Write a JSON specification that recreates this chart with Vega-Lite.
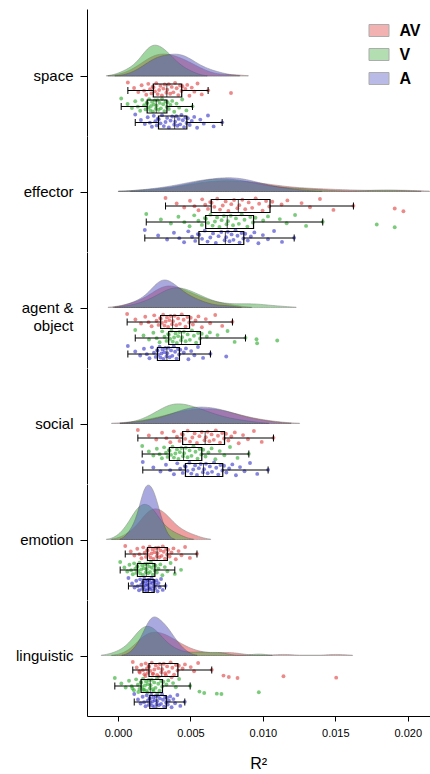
{
  "$schema": "https://vega.github.io/schema/vega-lite/v6.json",
  "padding": {"left": 15, "top": 9, "right": 0, "bottom": 0},
  "background": "white",
  "data": {"values": [
    {"c": "space", "m": "AV", "v": [0.00068,0.00394,0.00264,0.00549,0.00209,0.0035,0.00322,0.00478,0.00163,0.00428,0.00293,0.00445,0.0024,0.00371,0.00245,0.00509,0.00111,0.00405,0.00313,0.00465,0.00221,0.0034,0.00284,0.00622,0.0018,0.00438,0.00255,0.00527,0.0014,0.00382,0.00334,0.0078,0.00231,0.0036,0.00274,0.00578,0.00195,0.00416,0.00303,0.00493]},
    {"c": "space", "m": "V", "v": [0.00022,0.00304,0.00215,0.00443,0.00167,0.00273,0.00254,0.00374,0.00119,0.00328,0.00235,0.00342,0.00199,0.00288,0.00202,0.00404,0.00066,0.00312,0.00248,0.00362,0.0018,0.00266,0.00228,0.00514,0.00137,0.00336,0.00209,0.00422,0.00096,0.00296,0.00262,0.00351,0.0019,0.0028,0.00222,0.00472,0.00153,0.0032,0.00241,0.00388]},
    {"c": "space", "m": "A", "v": [0.00119,0.00438,0.00304,0.00621,0.00247,0.00403,0.00374,0.00526,0.00205,0.00465,0.00339,0.00482,0.00275,0.00419,0.00281,0.00568,0.00158,0.00447,0.00363,0.00509,0.00258,0.00394,0.00328,0.00719,0.0022,0.00473,0.00293,0.00592,0.00185,0.00429,0.00388,0.00495,0.00267,0.0041,0.00316,0.0066,0.00234,0.00456,0.00351,0.00546]},
    {"c": "effector", "m": "AV", "v": [0.00328,0.0095,0.00685,0.01394,0.00581,0.00858,0.00801,0.01169,0.00497,0.01022,0.00743,0.01065,0.00636,0.00902,0.00646,0.01267,0.00405,0.00974,0.00782,0.01129,0.00602,0.00837,0.00723,0.01625,0.00528,0.01044,0.00665,0.01325,0.00457,0.00926,0.00824,0.0191,0.00621,0.00878,0.00704,0.01487,0.00556,0.00998,0.00762,0.0197]},
    {"c": "effector", "m": "V", "v": [0.00195,0.00854,0.00638,0.01222,0.00526,0.00778,0.00731,0.01035,0.00417,0.00913,0.00684,0.00949,0.00599,0.00814,0.00607,0.01117,0.00296,0.00873,0.00715,0.01002,0.00555,0.00759,0.00669,0.01413,0.00458,0.00931,0.00622,0.01164,0.00365,0.00834,0.00749,0.01786,0.00579,0.00794,0.00653,0.01298,0.00494,0.00893,0.007,0.0191]},
    {"c": "effector", "m": "A", "v": [0.00185,0.00811,0.00599,0.01077,0.00485,0.00758,0.00713,0.00941,0.00386,0.00853,0.00656,0.00878,0.00551,0.00784,0.00561,0.01,0.00277,0.00825,0.00694,0.00917,0.00511,0.00746,0.00637,0.01216,0.00423,0.00865,0.0058,0.01035,0.00339,0.00797,0.00736,0.00896,0.00533,0.0077,0.00618,0.01132,0.00456,0.00839,0.00675,0.00969]},
    {"c": "agent & object", "m": "AV", "v": [0.00063,0.0044,0.00312,0.00671,0.0025,0.00391,0.00363,0.00555,0.00188,0.00479,0.00338,0.00502,0.00291,0.00415,0.00295,0.00606,0.0012,0.00453,0.00355,0.00535,0.00266,0.0038,0.00329,0.0079,0.00211,0.00491,0.00304,0.00636,0.00159,0.00427,0.00373,0.00517,0.0028,0.00402,0.00321,0.00719,0.00232,0.00466,0.00346,0.00579]},
    {"c": "agent & object", "m": "V", "v": [0.00119,0.0051,0.00369,0.00756,0.00305,0.00455,0.00424,0.00634,0.00244,0.00553,0.00397,0.00578,0.00346,0.00481,0.00351,0.00687,0.00176,0.00524,0.00415,0.00613,0.00321,0.00442,0.00387,0.0088,0.00267,0.00566,0.0036,0.00956,0.00214,0.00496,0.00435,0.01099,0.00335,0.00467,0.00378,0.00805,0.00287,0.00539,0.00406,0.0096]},
    {"c": "agent & object", "m": "A", "v": [0.00068,0.00385,0.00287,0.00552,0.00234,0.00348,0.00327,0.00469,0.00179,0.00414,0.00307,0.0043,0.0027,0.00366,0.00273,0.00505,0.00119,0.00394,0.0032,0.00454,0.00248,0.0034,0.003,0.00638,0.00199,0.00422,0.0028,0.00527,0.00153,0.00375,0.00335,0.00747,0.0026,0.00356,0.00293,0.00587,0.00217,0.00404,0.00314,0.00486]},
    {"c": "social", "m": "AV", "v": [0.00137,0.00675,0.00481,0.00938,0.00385,0.00619,0.00578,0.00806,0.00304,0.00719,0.00529,0.00745,0.0044,0.00646,0.00448,0.00863,0.00213,0.0069,0.00562,0.00782,0.00407,0.00606,0.00513,0.01073,0.00334,0.00732,0.00464,0.00897,0.00264,0.00661,0.00597,0.00762,0.00425,0.00631,0.00497,0.00992,0.00361,0.00704,0.00545,0.00833]},
    {"c": "social", "m": "V", "v": [0.00167,0.00521,0.00376,0.00773,0.00318,0.00468,0.00437,0.00646,0.00268,0.00563,0.00407,0.00588,0.00351,0.00494,0.00356,0.00702,0.00213,0.00535,0.00427,0.00624,0.00331,0.00456,0.00396,0.00903,0.00287,0.00575,0.00366,0.00734,0.00244,0.00507,0.00449,0.00604,0.00342,0.0048,0.00386,0.00825,0.00303,0.00549,0.00417,0.00672]},
    {"c": "social", "m": "A", "v": [0.00171,0.00663,0.00493,0.00911,0.00409,0.00607,0.00571,0.00789,0.00331,0.00707,0.00532,0.00732,0.00461,0.00634,0.00467,0.00842,0.00244,0.00678,0.00558,0.00767,0.00429,0.00594,0.00519,0.01036,0.0036,0.0072,0.0048,0.00873,0.00293,0.00649,0.00586,0.00748,0.00447,0.00619,0.00506,0.00961,0.00386,0.00692,0.00545,0.00814]},
    {"c": "emotion", "m": "AV", "v": [0.0005,0.00309,0.00218,0.00463,0.00174,0.00279,0.0026,0.00383,0.00133,0.00332,0.00239,0.00346,0.00201,0.00293,0.00204,0.00418,0.00088,0.00316,0.00253,0.00369,0.00184,0.00272,0.00232,0.00545,0.00148,0.00339,0.00211,0.00438,0.00113,0.00301,0.00268,0.00356,0.00193,0.00285,0.00225,0.00496,0.00162,0.00324,0.00246,0.00399]},
    {"c": "emotion", "m": "V", "v": [0.00015,0.00227,0.00148,0.00363,0.00111,0.00203,0.00186,0.00292,0.00079,0.00247,0.00167,0.00259,0.00132,0.00214,0.00135,0.00323,0.00044,0.00234,0.00179,0.00279,0.00119,0.00197,0.0016,0.00435,0.00091,0.00253,0.00141,0.00341,0.00064,0.00221,0.00193,0.00268,0.00126,0.00208,0.00154,0.00392,0.00102,0.0024,0.00173,0.00306]},
    {"c": "emotion", "m": "A", "v": [0.00072,0.00232,0.00181,0.00297,0.00153,0.00215,0.00204,0.00266,0.00126,0.00245,0.00192,0.00252,0.00171,0.00223,0.00173,0.0028,0.00097,0.00236,0.002,0.00261,0.0016,0.00211,0.00189,0.00328,0.00136,0.00249,0.00177,0.00287,0.00114,0.00228,0.00209,0.00256,0.00166,0.00219,0.00185,0.00309,0.00145,0.00241,0.00196,0.00273]},
    {"c": "linguistic", "m": "AV", "v": [0.00102,0.00363,0.00233,0.00553,0.00191,0.00316,0.00288,0.00462,0.00161,0.004,0.00261,0.0042,0.0021,0.00339,0.00215,0.00502,0.00129,0.00375,0.00279,0.00446,0.00198,0.00305,0.00251,0.00647,0.00172,0.00411,0.00224,0.00525,0.00147,0.00351,0.00299,0.0015,0.00205,0.00326,0.00242,0.0024,0.00182,0.00387,0.0027,0.0033,0.00728,0.0019,0.01142,0.00282,0.00765,0.0037,0.01506,0.00825]},
    {"c": "linguistic", "m": "V", "v": [-0.00022,0.00269,0.00173,0.00422,0.00125,0.00233,0.00212,0.00347,0.00076,0.00297,0.00193,0.00313,0.00157,0.0025,0.0016,0.0038,0.00023,0.00278,0.00206,0.00334,0.00137,0.00225,0.00186,0.00498,0.00094,0.00305,0.00167,0.00399,0.00053,0.00259,0.0022,0.001,0.00148,0.00241,0.0018,0.00176,0.0011,0.00287,0.00199,0.00245,0.00562,0.0014,0.00972,0.00203,0.00595,0.00272,0.00682,0.00714]},
    {"c": "linguistic", "m": "A", "v": [0.00112,0.00304,0.0023,0.0041,0.00198,0.00276,0.0026,0.0036,0.0017,0.00325,0.00245,0.00337,0.00217,0.00289,0.0022,0.00382,0.00138,0.00311,0.00255,0.00351,0.00205,0.0027,0.0024,0.00461,0.0018,0.00332,0.00225,0.00394,0.00156,0.00297,0.00266,0.00343,0.00212,0.00282,0.00235,0.0043,0.0019,0.00318,0.0025,0.0037]}
  ]},
  "transform": [
    {"flatten": ["v"]},
    {"window": [{"op": "row_number", "as": "j"}], "groupby": ["c", "m"]}
  ],
  "spacing": 0,
  "bounds": "flush",
  "resolve": {"scale": {"color": "independent", "fill": "independent", "y": "independent"}, "legend": {"fill": "independent", "color": "independent"}},
  "vconcat": [
    {
      "height": 127, "width": 342.5,
      "transform": [{"filter": "datum.c === 'space'"}],
      "encoding": {"x": {"field": "v", "type": "quantitative", "scale": {"domain": [-0.00214, 0.0215], "nice": false, "zero": false}, "axis": null}},
      "layer": [
        {"transform": [{"density": "v", "groupby": ["m"], "extent": [-0.0021, 0.0215], "steps": 200, "as": ["v", "density"]}, {"filter": "datum.density > 3"}],
         "mark": {"type": "area", "opacity": 0.5, "stroke": "#333", "strokeWidth": 0.9, "strokeOpacity": 0.7},
         "encoding": {
           "y": {"field": "density", "type": "quantitative", "stack": null, "scale": {"domain": [-666.67, 744.44], "nice": false, "zero": false}, "axis": {"values": [0], "labelExpr": "'space'", "title": null, "grid": false, "tickSize": 7, "labelPadding": 7, "labelFontSize": 15, "labelColor": "black", "domainColor": "black", "tickColor": "black", "labelLineHeight": 18}},
           "y2": {"datum": 0},
           "fill": {"field": "m", "type": "nominal", "scale": {"domain": ["AV", "V", "A"], "range": ["#e14141", "#41af41", "#5555c3"]}, "legend": {"orient": "none", "legendX": 281.5, "legendY": 11, "title": null, "labelFontSize": 16, "labelFontWeight": "bold", "labelColor": "black", "symbolType": "M-1,-0.6L1,-0.6L1,0.6L-1,0.6Z", "symbolSize": 400, "symbolOpacity": 0.4, "symbolStrokeColor": "#333", "symbolStrokeWidth": 1, "rowPadding": 5, "labelOffset": 10}}
         }},
        {"mark": {"type": "circle", "size": 15, "opacity": 0.6},
         "encoding": {
           "y": {"field": "m", "type": "nominal", "scale": {"domain": ["d1", "d2", "d3", "d4", "AV", "V", "A"], "paddingInner": 0, "paddingOuter": 0.46875, "align": 0.633}, "axis": null},
           "yOffset": {"field": "j", "type": "nominal", "scale": {"paddingOuter": 0}},
           "color": {"field": "m", "type": "nominal", "scale": {"domain": ["AV", "V", "A"], "range": ["#e03c3c", "#25a825", "#3232c8"]}, "legend": null}
         }},
        {"mark": {"type": "boxplot", "extent": 1.5, "size": 13, "outliers": false, "box": {"fill": "transparent", "stroke": "black", "strokeWidth": 1.2}, "median": {"color": "black", "strokeWidth": 1.6}, "rule": {"color": "black", "strokeWidth": 1}, "ticks": {"color": "black", "size": 7}},
         "encoding": {"y": {"field": "m", "type": "nominal", "scale": {"domain": ["d1", "d2", "d3", "d4", "AV", "V", "A"], "paddingInner": 0, "paddingOuter": 0.46875, "align": 0.633}, "axis": null}}}
      ],
      "resolve": {"scale": {"y": "independent"}}
    },
    {
      "height": 115.5, "width": 342.5,
      "transform": [{"filter": "datum.c === 'effector'"}],
      "encoding": {"x": {"field": "v", "type": "quantitative", "scale": {"domain": [-0.00214, 0.0215], "nice": false, "zero": false}, "axis": null}},
      "layer": [
        {"transform": [{"density": "v", "groupby": ["m"], "extent": [-0.0021, 0.0215], "steps": 200, "as": ["v", "density"]}, {"filter": "datum.density > 3"}],
         "mark": {"type": "area", "opacity": 0.5, "stroke": "#333", "strokeWidth": 0.9, "strokeOpacity": 0.7},
         "encoding": {
           "y": {"field": "density", "type": "quantitative", "stack": null, "scale": {"domain": [-666.67, 616.67], "nice": false, "zero": false}, "axis": {"values": [0], "labelExpr": "'effector'", "title": null, "grid": false, "tickSize": 7, "labelPadding": 7, "labelFontSize": 15, "labelColor": "black", "domainColor": "black", "tickColor": "black", "labelLineHeight": 18}},
           "y2": {"datum": 0},
           "fill": {"field": "m", "type": "nominal", "scale": {"domain": ["AV", "V", "A"], "range": ["#e14141", "#41af41", "#5555c3"]}, "legend": null}
         }},
        {"mark": {"type": "circle", "size": 15, "opacity": 0.6},
         "encoding": {
           "y": {"field": "m", "type": "nominal", "scale": {"domain": ["d1", "d2", "d3", "AV", "V", "A"], "paddingInner": 0, "paddingOuter": 0.609375, "align": 0.718}, "axis": null},
           "yOffset": {"field": "j", "type": "nominal", "scale": {"paddingOuter": 0}},
           "color": {"field": "m", "type": "nominal", "scale": {"domain": ["AV", "V", "A"], "range": ["#e03c3c", "#25a825", "#3232c8"]}, "legend": null}
         }},
        {"mark": {"type": "boxplot", "extent": 1.5, "size": 13, "outliers": false, "box": {"fill": "transparent", "stroke": "black", "strokeWidth": 1.2}, "median": {"color": "black", "strokeWidth": 1.6}, "rule": {"color": "black", "strokeWidth": 1}, "ticks": {"color": "black", "size": 7}},
         "encoding": {"y": {"field": "m", "type": "nominal", "scale": {"domain": ["d1", "d2", "d3", "AV", "V", "A"], "paddingInner": 0, "paddingOuter": 0.609375, "align": 0.718}, "axis": null}}}
      ],
      "resolve": {"scale": {"y": "independent"}}
    },
    {
      "height": 115.5, "width": 342.5,
      "transform": [{"filter": "datum.c === 'agent & object'"}],
      "encoding": {"x": {"field": "v", "type": "quantitative", "scale": {"domain": [-0.00214, 0.0215], "nice": false, "zero": false}, "axis": null}},
      "layer": [
        {"transform": [{"density": "v", "groupby": ["m"], "extent": [-0.0021, 0.0215], "steps": 200, "as": ["v", "density"]}, {"filter": "datum.density > 3"}],
         "mark": {"type": "area", "opacity": 0.5, "stroke": "#333", "strokeWidth": 0.9, "strokeOpacity": 0.7},
         "encoding": {
           "y": {"field": "density", "type": "quantitative", "stack": null, "scale": {"domain": [-666.67, 616.67], "nice": false, "zero": false}, "axis": {"values": [0], "labelExpr": "['agent &', 'object']", "title": null, "grid": false, "tickSize": 7, "labelPadding": 7, "labelFontSize": 15, "labelColor": "black", "domainColor": "black", "tickColor": "black", "labelLineHeight": 18}},
           "y2": {"datum": 0},
           "fill": {"field": "m", "type": "nominal", "scale": {"domain": ["AV", "V", "A"], "range": ["#e14141", "#41af41", "#5555c3"]}, "legend": null}
         }},
        {"mark": {"type": "circle", "size": 15, "opacity": 0.6},
         "encoding": {
           "y": {"field": "m", "type": "nominal", "scale": {"domain": ["d1", "d2", "d3", "AV", "V", "A"], "paddingInner": 0, "paddingOuter": 0.609375, "align": 0.718}, "axis": null},
           "yOffset": {"field": "j", "type": "nominal", "scale": {"paddingOuter": 0}},
           "color": {"field": "m", "type": "nominal", "scale": {"domain": ["AV", "V", "A"], "range": ["#e03c3c", "#25a825", "#3232c8"]}, "legend": null}
         }},
        {"mark": {"type": "boxplot", "extent": 1.5, "size": 13, "outliers": false, "box": {"fill": "transparent", "stroke": "black", "strokeWidth": 1.2}, "median": {"color": "black", "strokeWidth": 1.6}, "rule": {"color": "black", "strokeWidth": 1}, "ticks": {"color": "black", "size": 7}},
         "encoding": {"y": {"field": "m", "type": "nominal", "scale": {"domain": ["d1", "d2", "d3", "AV", "V", "A"], "paddingInner": 0, "paddingOuter": 0.609375, "align": 0.718}, "axis": null}}}
      ],
      "resolve": {"scale": {"y": "independent"}}
    },
    {
      "height": 115.5, "width": 342.5,
      "transform": [{"filter": "datum.c === 'social'"}],
      "encoding": {"x": {"field": "v", "type": "quantitative", "scale": {"domain": [-0.00214, 0.0215], "nice": false, "zero": false}, "axis": null}},
      "layer": [
        {"transform": [{"density": "v", "groupby": ["m"], "extent": [-0.0021, 0.0215], "steps": 200, "as": ["v", "density"]}, {"filter": "datum.density > 3"}],
         "mark": {"type": "area", "opacity": 0.5, "stroke": "#333", "strokeWidth": 0.9, "strokeOpacity": 0.7},
         "encoding": {
           "y": {"field": "density", "type": "quantitative", "stack": null, "scale": {"domain": [-666.67, 616.67], "nice": false, "zero": false}, "axis": {"values": [0], "labelExpr": "'social'", "title": null, "grid": false, "tickSize": 7, "labelPadding": 7, "labelFontSize": 15, "labelColor": "black", "domainColor": "black", "tickColor": "black", "labelLineHeight": 18}},
           "y2": {"datum": 0},
           "fill": {"field": "m", "type": "nominal", "scale": {"domain": ["AV", "V", "A"], "range": ["#e14141", "#41af41", "#5555c3"]}, "legend": null}
         }},
        {"mark": {"type": "circle", "size": 15, "opacity": 0.6},
         "encoding": {
           "y": {"field": "m", "type": "nominal", "scale": {"domain": ["d1", "d2", "d3", "AV", "V", "A"], "paddingInner": 0, "paddingOuter": 0.609375, "align": 0.718}, "axis": null},
           "yOffset": {"field": "j", "type": "nominal", "scale": {"paddingOuter": 0}},
           "color": {"field": "m", "type": "nominal", "scale": {"domain": ["AV", "V", "A"], "range": ["#e03c3c", "#25a825", "#3232c8"]}, "legend": null}
         }},
        {"mark": {"type": "boxplot", "extent": 1.5, "size": 13, "outliers": false, "box": {"fill": "transparent", "stroke": "black", "strokeWidth": 1.2}, "median": {"color": "black", "strokeWidth": 1.6}, "rule": {"color": "black", "strokeWidth": 1}, "ticks": {"color": "black", "size": 7}},
         "encoding": {"y": {"field": "m", "type": "nominal", "scale": {"domain": ["d1", "d2", "d3", "AV", "V", "A"], "paddingInner": 0, "paddingOuter": 0.609375, "align": 0.718}, "axis": null}}}
      ],
      "resolve": {"scale": {"y": "independent"}}
    },
    {
      "height": 115.5, "width": 342.5,
      "transform": [{"filter": "datum.c === 'emotion'"}],
      "encoding": {"x": {"field": "v", "type": "quantitative", "scale": {"domain": [-0.00214, 0.0215], "nice": false, "zero": false}, "axis": null}},
      "layer": [
        {"transform": [{"density": "v", "groupby": ["m"], "extent": [-0.0021, 0.0215], "steps": 200, "as": ["v", "density"]}, {"filter": "datum.density > 3"}],
         "mark": {"type": "area", "opacity": 0.5, "stroke": "#333", "strokeWidth": 0.9, "strokeOpacity": 0.7},
         "encoding": {
           "y": {"field": "density", "type": "quantitative", "stack": null, "scale": {"domain": [-666.67, 616.67], "nice": false, "zero": false}, "axis": {"values": [0], "labelExpr": "'emotion'", "title": null, "grid": false, "tickSize": 7, "labelPadding": 7, "labelFontSize": 15, "labelColor": "black", "domainColor": "black", "tickColor": "black", "labelLineHeight": 18}},
           "y2": {"datum": 0},
           "fill": {"field": "m", "type": "nominal", "scale": {"domain": ["AV", "V", "A"], "range": ["#e14141", "#41af41", "#5555c3"]}, "legend": null}
         }},
        {"mark": {"type": "circle", "size": 15, "opacity": 0.6},
         "encoding": {
           "y": {"field": "m", "type": "nominal", "scale": {"domain": ["d1", "d2", "d3", "AV", "V", "A"], "paddingInner": 0, "paddingOuter": 0.609375, "align": 0.718}, "axis": null},
           "yOffset": {"field": "j", "type": "nominal", "scale": {"paddingOuter": 0}},
           "color": {"field": "m", "type": "nominal", "scale": {"domain": ["AV", "V", "A"], "range": ["#e03c3c", "#25a825", "#3232c8"]}, "legend": null}
         }},
        {"mark": {"type": "boxplot", "extent": 1.5, "size": 13, "outliers": false, "box": {"fill": "transparent", "stroke": "black", "strokeWidth": 1.2}, "median": {"color": "black", "strokeWidth": 1.6}, "rule": {"color": "black", "strokeWidth": 1}, "ticks": {"color": "black", "size": 7}},
         "encoding": {"y": {"field": "m", "type": "nominal", "scale": {"domain": ["d1", "d2", "d3", "AV", "V", "A"], "paddingInner": 0, "paddingOuter": 0.609375, "align": 0.718}, "axis": null}}}
      ],
      "resolve": {"scale": {"y": "independent"}}
    },
    {
      "height": 116, "width": 342.5,
      "transform": [{"filter": "datum.c === 'linguistic'"}],
      "encoding": {"x": {"field": "v", "type": "quantitative", "scale": {"domain": [-0.00214, 0.0215], "nice": false, "zero": false}, "axis": {"values": [0, 0.005, 0.01, 0.015, 0.02], "format": ".3f", "title": "R²", "titleFontSize": 16, "titleFontWeight": "normal", "titleColor": "black", "titlePadding": 17, "labelFontSize": 11, "labelColor": "black", "labelPadding": 6, "tickColor": "black", "tickSize": 5, "domainColor": "black", "grid": false}}},
      "layer": [
        {"transform": [{"density": "v", "groupby": ["m"], "extent": [-0.0021, 0.0215], "steps": 200, "as": ["v", "density"]}, {"filter": "datum.density > 3"}],
         "mark": {"type": "area", "opacity": 0.5, "stroke": "#333", "strokeWidth": 0.9, "strokeOpacity": 0.7},
         "encoding": {
           "y": {"field": "density", "type": "quantitative", "stack": null, "scale": {"domain": [-672.22, 616.67], "nice": false, "zero": false}, "axis": {"values": [0], "labelExpr": "'linguistic'", "title": null, "grid": false, "tickSize": 7, "labelPadding": 7, "labelFontSize": 15, "labelColor": "black", "domainColor": "black", "tickColor": "black", "labelLineHeight": 18}},
           "y2": {"datum": 0},
           "fill": {"field": "m", "type": "nominal", "scale": {"domain": ["AV", "V", "A"], "range": ["#e14141", "#41af41", "#5555c3"]}, "legend": null}
         }},
        {"mark": {"type": "circle", "size": 15, "opacity": 0.6},
         "encoding": {
           "y": {"field": "m", "type": "nominal", "scale": {"domain": ["d1", "d2", "d3", "AV", "V", "A"], "paddingInner": 0, "paddingOuter": 0.625, "align": 0.7}, "axis": null},
           "yOffset": {"field": "j", "type": "nominal", "scale": {"paddingOuter": 0}},
           "color": {"field": "m", "type": "nominal", "scale": {"domain": ["AV", "V", "A"], "range": ["#e03c3c", "#25a825", "#3232c8"]}, "legend": null}
         }},
        {"mark": {"type": "boxplot", "extent": 1.5, "size": 13, "outliers": false, "box": {"fill": "transparent", "stroke": "black", "strokeWidth": 1.2}, "median": {"color": "black", "strokeWidth": 1.6}, "rule": {"color": "black", "strokeWidth": 1}, "ticks": {"color": "black", "size": 7}},
         "encoding": {"y": {"field": "m", "type": "nominal", "scale": {"domain": ["d1", "d2", "d3", "AV", "V", "A"], "paddingInner": 0, "paddingOuter": 0.625, "align": 0.7}, "axis": null}}}
      ],
      "resolve": {"scale": {"y": "independent"}}
    }
  ],
  "config": {"view": {"stroke": null}, "font": "Liberation Sans", "axis": {"grid": false}}
}
